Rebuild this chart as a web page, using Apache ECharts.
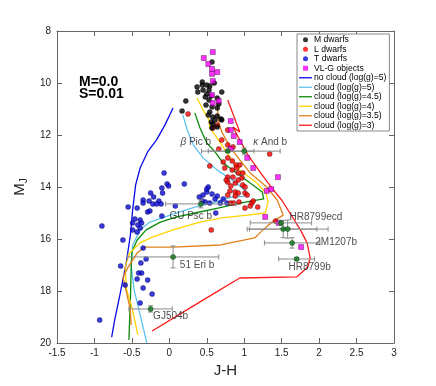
<!DOCTYPE html>
<html>
<head>
<meta charset="utf-8">
<script src="https://cdn.jsdelivr.net/npm/echarts@6/dist/echarts.min.js"></script>
<style>
html,body{margin:0;padding:0;background:#fff;}
#chart{width:436px;height:386px;}
</style>
</head>
<body>
<div id="chart"></div>
<script>
// colour-magnitude diagram, J-H vs M_J
const xTicks = [-1.5, 3, 0.5];   // min, max, step
const yTicks = [8, 20, 2];

// field objects  [J-H, M_J]
const mDwarfs = [[0.57,9.19],[0.44,9.96],[0.44,10.08],[0.37,10.15],[0.50,10.08],[0.60,10.0],[0.54,10.12],
  [0.70,10.35],[0.38,10.35],[0.50,10.42],[0.56,10.5],[0.53,10.65],[0.64,10.58],[0.22,10.69],[0.48,10.54],
  [0.49,10.85],[0.57,10.92],[0.64,10.96],[0.17,11.08],[0.54,11.12],[0.64,11.27],[0.69,11.38],[0.58,11.31],
  [0.58,11.58],[0.64,11.69],[0.52,11.23],[0.61,11.42],[0.70,11.42],[0.66,10.81],[0.53,10.27],[0.45,10.27],
  [0.56,11.5],[0.57,11.73]];
const lDwarfs = [[0.25,11.19],[0.64,11.62],[0.58,11.73],[0.78,11.81],[0.70,12.19],[0.66,12.54],[0.78,12.38],
  [0.85,12.46],[1.34,12.73],[0.54,13.19],[0.78,12.88],[0.84,13.0],[0.89,13.15],[0.94,13.15],[0.72,13.04],
  [0.74,13.27],[0.84,13.35],[0.90,13.27],[0.92,13.46],[0.98,13.46],[0.78,13.62],[0.85,13.62],[0.92,13.73],
  [0.78,13.81],[0.88,13.85],[0.76,13.73],[0.82,13.96],[0.98,13.92],[0.81,14.15],[0.88,14.19],[0.92,14.23],
  [0.78,14.31],[0.88,14.35],[1.01,14.23],[1.04,14.31],[0.82,14.62],[0.86,14.62],[0.93,14.58],[1.01,14.81],
  [1.08,14.73],[1.10,14.62],[1.12,14.54],[1.18,14.77],[0.56,15.65],[1.42,15.31],[0.97,13.65],[1.01,14.0]];
const tDwarfs = [[-0.07,13.46],[-0.03,13.88],[-0.01,13.96],[0.20,13.88],[-0.25,14.23],[-0.10,14.04],[-0.09,14.23],
  [-0.21,14.38],[-0.27,14.54],[-0.35,14.5],[-0.14,14.54],[-0.35,14.62],[-0.22,14.65],[-0.17,14.65],[-0.11,14.65],
  [0.08,14.73],[-0.55,14.77],[-0.43,14.81],[-0.29,14.96],[-0.26,14.92],[-0.10,15.12],[-0.90,15.5],[-0.46,15.23],
  [-0.39,15.27],[-0.49,15.38],[-0.37,15.38],[-0.42,15.46],[-0.39,15.58],[-0.49,15.65],[-0.43,15.73],[-0.62,16.04],
  [0.45,14.31],[0.50,14.19],[0.52,14.0],[0.48,14.58],[0.44,14.54],[0.40,14.38],[0.57,14.27],[0.64,14.35],
  [0.54,14.62],[0.61,14.46],[0.72,14.46],[0.68,14.62],[0.77,14.62],[0.62,15.0],[-0.35,16.35],[-0.31,16.77],
  [-0.38,16.92],[-0.65,17.04],[-0.37,17.31],[-0.41,17.31],[-0.43,17.54],[-0.29,17.58],[-0.59,17.77],[-0.35,17.88],
  [-0.23,18.12],[-0.39,18.46],[-0.93,19.12],[0.50,14.08]];
const vlgObjects = [[0.58,8.81],[0.46,9.04],[0.52,9.27],[0.57,9.46],[0.64,9.58],[0.57,9.65],[0.58,9.92],[0.57,10.46],
  [0.66,10.69],[0.58,10.77],[0.82,11.46],[0.82,11.81],[0.86,12.04],[0.94,12.27],[0.82,12.54],[1.04,12.88],
  [1.12,13.27],[1.45,13.62],[1.30,14.15],[1.36,14.08],[1.28,15.15],[1.46,15.38],[1.76,16.31]];

// model tracks
const noCloudG5 = [[0.05,10.96],[-0.06,11.62],[-0.17,12.19],[-0.29,12.65],[-0.39,13.27],[-0.45,13.92],[-0.49,14.88],
  [-0.52,15.85],[-0.58,17.0],[-0.66,18.15],[-0.73,19.12],[-0.77,19.77]];
const cloudG5 = [[0.18,11.23],[0.24,11.81],[0.32,12.38],[0.45,12.88],[0.64,13.35],[0.84,13.73],[1.01,14.12],[1.03,14.35],
  [0.84,14.38],[0.61,14.58],[0.34,14.77],[0.01,15.08],[-0.26,15.35],[-0.39,15.65],[-0.49,16.23],[-0.51,17.0],
  [-0.47,17.96],[-0.39,18.92],[-0.30,20.0]];
const cloudG45 = [[0.34,11.15],[0.41,11.73],[0.50,12.31],[0.61,12.65],[0.72,13.08],[0.90,13.46],[1.08,13.85],[1.24,14.19],
  [1.26,14.46],[0.94,14.62],[0.65,14.81],[0.34,15.0],[0.10,15.15],[-0.12,15.35],[-0.31,15.65],[-0.43,16.04],
  [-0.50,16.5],[-0.51,17.19],[-0.52,18.35],[-0.54,19.88]];
const cloudG4 = [[0.37,10.58],[0.45,11.04],[0.53,11.42],[0.54,11.73],[0.64,12.12],[0.77,12.69],[0.94,13.35],[1.17,13.85],
  [1.29,14.23],[1.32,14.58],[1.28,15.0],[1.04,15.08],[0.70,15.19],[0.41,15.35],[0.08,15.62],[-0.22,15.92],
  [-0.39,16.15],[-0.53,16.54],[-0.59,17.08],[-0.57,17.96],[-0.50,18.62],[-0.42,19.69]];
const cloudG35 = [[0.64,10.54],[0.65,11.42],[0.70,11.88],[0.81,12.46],[0.94,12.96],[1.08,13.46],[1.30,14.0],[1.44,14.5],
  [1.52,15.08],[1.37,15.35],[1.25,15.65],[1.14,15.96],[0.68,16.23],[0.05,16.31],[-0.33,16.31],[-0.43,16.54],
  [-0.55,17.08],[-0.62,17.46],[-0.57,18.08],[-0.52,18.73],[-0.51,19.31]];
const cloudG3 = [[0.78,10.65],[0.94,11.88],[0.85,11.69],[0.92,12.08],[1.05,12.77],[1.21,13.42],[1.37,14.04],[1.50,14.5],
  [1.61,15.0],[1.75,15.65],[1.84,16.15],[1.88,16.73],[1.85,17.08],[1.70,17.46],[0.94,17.5],[0.41,18.42],[-0.23,19.54]];

// directly imaged companions
const compX    = [0.78, 1.00, 0.42, 0.05, -0.25, 1.49, 1.52, 1.58, 1.64, 1.70];
const compY    = [12.62, 12.62, 14.65, 16.69, 18.69, 15.38, 15.62, 15.62, 16.15, 16.77];
const compXErr = [0.35, 0.48, 0.47, 0.61, 0.29, 0.41, 0.45, 0.54, 0.37, 0.24];
const compYErr = [0.05, 0.12, 0.15, 0.42, 0.12, 0.1, 0.33, 0.35, 0.2, 0.05];
const compLabel = ['β Pic b', 'κ And b', 'GU Psc b', '51 Eri b', 'GJ504b', 'HR8799ecd', '', '', '2M1207b', 'HR8799b'];

const font = 'Liberation Sans';
// label placement (px from the marker)
const labelShift = {
  'β Pic b': [-32, -9], 'κ And b': [26, -9], 'GU Psc b': [-10, 12], '51 Eri b': [24, 8],
  'GJ504b': [20, 7], 'HR8799ecd': [35, -6], '2M1207b': [44, -1], 'HR8799b': [13, 8]
};
const lineIcon = 'path://M0,9 L20,9 L20,11 L0,11 Z';
const squareIcon = 'path://M0,0 L10,0 L10,10 L0,10 Z';

let chart = echarts.init(document.getElementById('chart'));

function lineSeries(name, data, color) {
  return {
    name: name, type: 'line', data: data, symbol: 'none', z: 2,
    lineStyle: { color: color, width: 1.3 }, itemStyle: { color: color }
  };
}
function dotSeries(name, data, color, symbol, border) {
  return {
    name: name, type: 'scatter', data: data, symbol: symbol || 'circle', symbolSize: 5, z: 3,
    itemStyle: { color: color, borderColor: border || color, borderWidth: 0.5 }
  };
}

let compData = compX.map((x, i) => {
  let d = { value: [x, compY[i], compXErr[i], compYErr[i]], name: compLabel[i] };
  if (compLabel[i]) {
    d.label = { show: true, offset: labelShift[compLabel[i]] };
  }
  return d;
});

let legendItems = [
  { name: 'M dwarfs', icon: 'circle' },
  { name: 'L dwarfs', icon: 'circle' },
  { name: 'T dwarfs', icon: 'circle' },
  { name: 'VL-G objects', icon: squareIcon },
  { name: 'no cloud (log(g)=5)', icon: lineIcon },
  { name: 'cloud (log(g)=5)', icon: lineIcon },
  { name: 'cloud (log(g)=4.5)', icon: lineIcon },
  { name: 'cloud (log(g)=4)', icon: lineIcon },
  { name: 'cloud (log(g)=3.5)', icon: lineIcon },
  { name: 'cloud (log(g)=3)', icon: lineIcon }
];

let option = {
  animation: false,
  backgroundColor: '#fff',
  textStyle: { fontFamily: font },
  grid: { left: 57, right: 42, top: 31, bottom: 43 },
  graphic: [{
    type: 'text', left: 79, top: 75,
    style: { text: 'M=0.0\nS=0.01', font: 'bold 14px ' + font, lineHeight: 12, fill: '#000' }
  }],
  legend: {
    orient: 'vertical', left: 297, top: 34,
    padding: [1, 3, 1, 2], itemGap: 0, itemWidth: 13, itemHeight: 5,
    backgroundColor: '#fff', borderColor: '#888', borderWidth: 1, borderRadius: 0,
    itemStyle: { borderWidth: 0 },
    textStyle: { fontSize: 8.6, color: '#000', lineHeight: 9.5, padding: [0, 0, 0, -3] },
    data: legendItems
  },
  xAxis: [{
    type: 'value', min: xTicks[0], max: xTicks[1], interval: xTicks[2],
    name: 'J-H', nameLocation: 'middle', nameGap: 18,
    nameTextStyle: { fontSize: 15, color: '#222' },
    axisLine: { onZero: false, lineStyle: { color: '#666' } },
    axisTick: { inside: true, length: 5, lineStyle: { color: '#666' } },
    axisLabel: { fontSize: 10, color: '#222', margin: 5 },
    splitLine: { show: false }
  }, {
    type: 'value', position: 'top', min: xTicks[0], max: xTicks[1], interval: xTicks[2],
    axisLine: { onZero: false, lineStyle: { color: '#666' } },
    axisTick: { inside: true, length: 5, lineStyle: { color: '#666' } },
    axisLabel: { show: false }, splitLine: { show: false }
  }],
  yAxis: [{
    type: 'value', inverse: true, min: yTicks[0], max: yTicks[1], interval: yTicks[2],
    name: '{m|M}{j|J}', nameLocation: 'middle', nameGap: 26, nameRotate: 90,
    nameTextStyle: {
      color: '#222',
      rich: { m: { fontSize: 15, lineHeight: 18, color: '#222' },
              j: { fontSize: 10, lineHeight: 10, verticalAlign: 'bottom', color: '#222' } }
    },
    axisLine: { onZero: false, lineStyle: { color: '#666' } },
    axisTick: { inside: true, length: 5, lineStyle: { color: '#666' } },
    axisLabel: { fontSize: 10, color: '#222', margin: 6 },
    splitLine: { show: false }
  }, {
    type: 'value', position: 'right', inverse: true, min: yTicks[0], max: yTicks[1], interval: yTicks[2],
    axisLine: { onZero: false, lineStyle: { color: '#666' } },
    axisTick: { inside: true, length: 5, lineStyle: { color: '#666' } },
    axisLabel: { show: false }, splitLine: { show: false }
  }],
  series: [
    lineSeries('no cloud (log(g)=5)', noCloudG5, '#0a0ae6'),
    lineSeries('cloud (log(g)=5)', cloudG5, '#5fc3ee'),
    lineSeries('cloud (log(g)=4.5)', cloudG45, '#0a8a0a'),
    lineSeries('cloud (log(g)=4)', cloudG4, '#ffd200'),
    lineSeries('cloud (log(g)=3.5)', cloudG35, '#e0801e'),
    lineSeries('cloud (log(g)=3)', cloudG3, '#ff1a1a'),
    dotSeries('T dwarfs', tDwarfs, '#0a0ad2', 'circle', '#000060'),
    dotSeries('L dwarfs', lDwarfs, '#ff0000', 'circle', '#300000'),
    dotSeries('M dwarfs', mDwarfs, '#000000'),
    dotSeries('VL-G objects', vlgObjects, '#ff00ff', 'rect', '#300030'),
    {
      // error bars of the companions
      type: 'custom', z: 4, silent: true,
      data: compData.map(d => d.value),
      encode: { x: 0, y: 1 },
      renderItem: function (params, api) {
        let x = api.value(0), y = api.value(1), ex = api.value(2), ey = api.value(3);
        let l = api.coord([x - ex, y]), r = api.coord([x + ex, y]);
        let t = api.coord([x, y - ey]), b = api.coord([x, y + ey]);
        let st = { stroke: '#8a8a8a', lineWidth: 1 };
        let seg = (x1, y1, x2, y2) => ({ type: 'line', shape: { x1: x1, y1: y1, x2: x2, y2: y2 }, style: st });
        return {
          type: 'group', children: [
            seg(l[0], l[1], r[0], r[1]), seg(l[0], l[1] - 2.5, l[0], l[1] + 2.5), seg(r[0], r[1] - 2.5, r[0], r[1] + 2.5),
            seg(t[0], t[1], b[0], b[1]), seg(t[0] - 2.5, t[1], t[0] + 2.5, t[1]), seg(b[0] - 2.5, b[1], b[0] + 2.5, b[1])
          ]
        };
      }
    },
    {
      name: 'companions', type: 'scatter', z: 5, symbolSize: 5,
      data: compData,
      itemStyle: { color: '#0b7a1c', borderColor: '#002000', borderWidth: 0.5 },
      label: {
        show: false, position: 'inside', fontSize: 10, color: '#222',
        formatter: function (p) {
          let n = p.name;
          if (n.charAt(0) === 'β' || n.charAt(0) === 'κ') return '{g|' + n.charAt(0) + '}' + n.slice(1);
          return n;
        },
        rich: { g: { fontSize: 10, fontStyle: 'italic', color: '#222' } }
      }
    }
  ]
};

chart.setOption(option);
</script>
</body>
</html>
